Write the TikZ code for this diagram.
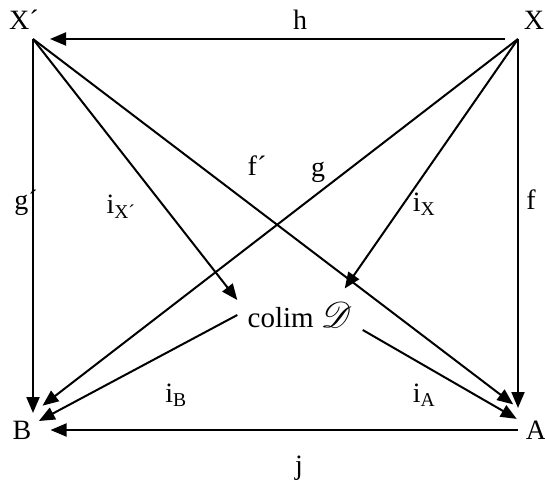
\documentclass[tikz,border=0pt]{standalone}
\usepackage{fontspec}
\setmainfont{Liberation Serif}
\usepackage{mathrsfs}
\usetikzlibrary{arrows.meta,positioning,calc}

\begin{document}
\begin{tikzpicture}[
  x=1pt, y=-1pt,
  font=\fontsize{28}{32}\selectfont,
  >={Triangle[length=16pt,width=13pt]},
  obj/.style={inner sep=2pt},
  lbl/.style={inner sep=1pt},
  arrow/.style={->, line width=2pt}
]
  \useasboundingbox (0,0) rectangle (545,486);

  % corners of the square
  \coordinate (xp) at (33,39);
  \coordinate (x) at (518,39);
  \coordinate (b) at (33,413);
  \coordinate (a) at (518,408);

  \node[obj] (Xp) at (24,20) {X´};
  \node[obj] (X) at (534,20) {X};
  \node[obj] (B) at (22,430) {B};
  \node[obj] (A) at (536,430) {A};
  \node[obj, minimum width=125pt, minimum height=26pt] (colim) at (300,315)
    {\fontsize{29}{32}\selectfont colim \scalebox{1.45}{$\mathscr{D}$}};

  \draw[arrow, shorten <=13pt, shorten >=17pt] (x) -- (xp);
  \draw[arrow, shorten <=6pt, shorten >=17pt] (A.west) -- (B.east);
  \draw[arrow] (xp) -- (b);
  \draw[arrow] (x) -- (a);
  \draw[arrow, shorten >=12pt] (x) -- (b);
  \draw[arrow, shorten >=6pt] (xp) -- (a);
  \draw[arrow] (xp) -- (colim.north west);
  \draw[arrow, shorten >=14pt] (x) -- ([xshift=-26pt]colim.north east);
  \draw[arrow, shorten >=6pt] (colim.west) -- (B);
  \draw[arrow, shorten >=8pt] (colim.south east) -- (A);

  % labels
  \node[lbl] (lh) at (300,20) {h};
  \node[lbl] (lj) at (299,468) {j};
  \node[lbl] (lgp) at (26,203) {g´};
  \node[lbl] (lixp) at (121,207) {i\textsubscript{X´}};
  \node[lbl] (lfp) at (257,166) {f´};
  \node[lbl] (lg) at (318,172) {g};
  \node[lbl] (lix) at (424,204) {i\textsubscript{X}};
  \node[lbl] (lf) at (531,200) {f};
  \node[lbl] (lib) at (176,395) {i\textsubscript{B}};
  \node[lbl] (lia) at (424,395) {i\textsubscript{A}};
\end{tikzpicture}
\end{document}
